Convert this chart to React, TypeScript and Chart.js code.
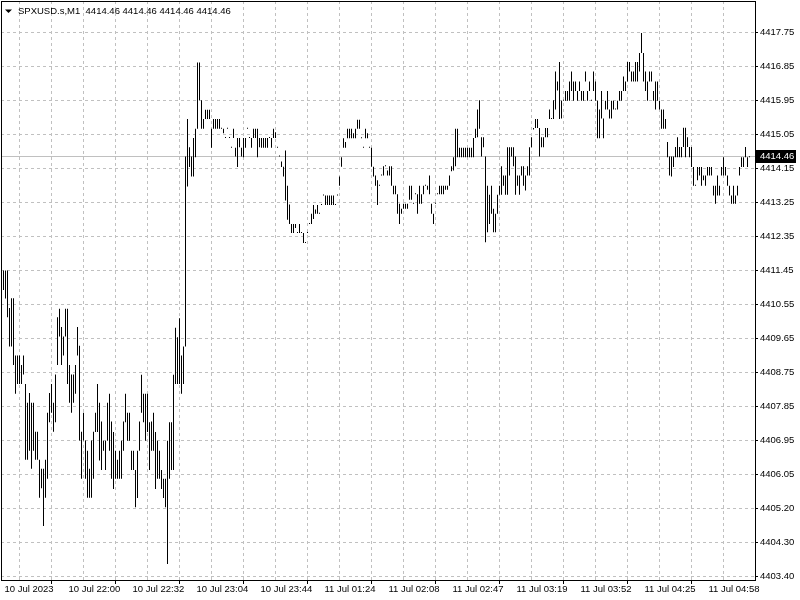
import React, { useEffect, useRef } from "react";
import { Chart, registerables } from "chart.js";

Chart.register(...registerables);

const TITLE_TEXT = "SPXUSD.s,M1  4414.46 4414.46 4414.46 4414.46";
const CURRENT_PRICE = 4414.46;
const CURRENT_LABEL = "4414.46";

const PRICE_TICK_LABELS = [
  "4417.75", "4416.85", "4415.95", "4415.05", "4414.15", "4413.25", "4412.35", "4411.45",
  "4410.55", "4409.65", "4408.75", "4407.85", "4406.95", "4406.05", "4405.20", "4404.30", "4403.40",
];

// one label every 32 one-minute bars (gridlines every 16 bars)
const TIME_LABELS = [
  "10 Jul 2023", "10 Jul 22:00", "10 Jul 22:32", "10 Jul 23:04", "10 Jul 23:44", "11 Jul 01:24",
  "11 Jul 02:08", "11 Jul 02:47", "11 Jul 03:19", "11 Jul 03:52", "11 Jul 04:25", "11 Jul 04:58",
];

const HIGHS = [
  4411.47, 4411.47, 4411.47, 4410.48, 4410.74, 4410.74, 4409.23, 4409.23, 4409.23, 4408.98,
  4409.23, 4408.48, 4407.98, 4408.24, 4407.98, 4407.98, 4407.22, 4407.22, 4406.48, 4406.24,
  4406.24, 4406.48, 4407.72, 4408.24, 4408.48, 4407.98, 4408.73, 4410.24, 4410.46, 4409.98,
  4409.73, 4410.46, 4410.46, 4408.98, 4408.73, 4408.73, 4408.98, 4409.98, 4409.49, 4407.22,
  4407.72, 4406.99, 4406.72, 4406.24, 4406.99, 4407.22, 4407.72, 4408.48, 4407.98, 4407.49,
  4406.98, 4406.98, 4407.98, 4408.22, 4407.49, 4407.21, 4406.72, 4406.48, 4406.72, 4406.98,
  4407.49, 4408.22, 4407.72, 4407.72, 4406.72, 4406.72, 4406.21, 4406.72, 4407.49, 4408.72,
  4408.22, 4408.22, 4408.22, 4407.47, 4407.49, 4407.72, 4407.21, 4406.98, 4406.72, 4406.21,
  4405.98, 4405.98, 4406.98, 4407.47, 4407.47, 4408.72, 4409.96, 4409.71, 4410.21, 4409.23,
  4409.47, 4414.48, 4415.47, 4414.72, 4414.48, 4414.97, 4415.21, 4416.96, 4416.96, 4415.96,
  4415.47, 4415.71, 4415.71, 4415.71, 4415.21, 4415.47, 4415.47, 4415.47, 4415.47, 4415.21,
  4415.21, 4414.97, 4415.21, 4414.97, 4414.71, 4415.21, 4414.71, 4414.97, 4414.97, 4414.71,
  4414.97, 4414.97, 4415.21, 4414.97, 4414.97, 4415.21, 4415.21, 4415.21, 4414.97, 4414.97,
  4414.97, 4414.97, 4414.97, 4414.97, 4414.97, 4415.21, 4415.12, 4414.71, 4414.48, 4414.35,
  4414.21, 4414.64, 4413.71, 4413.21, 4412.70, 4412.70, 4412.70, 4412.46, 4412.70, 4412.46,
  4412.46, 4412.20, 4412.46, 4412.70, 4412.97, 4413.20, 4413.08, 4413.20, 4412.97, 4413.20,
  4413.45, 4413.45, 4413.45, 4413.45, 4413.45, 4413.45, 4413.20, 4413.45, 4413.95, 4414.46,
  4414.96, 4414.86, 4415.21, 4415.21, 4415.21, 4415.09, 4415.21, 4415.45, 4415.45, 4414.96,
  4414.71, 4415.21, 4415.09, 4414.71, 4414.71, 4414.21, 4413.98, 4413.85, 4413.71, 4413.98,
  4414.22, 4414.22, 4414.11, 4414.22, 4414.22, 4413.71, 4413.71, 4413.48, 4413.23, 4413.10,
  4413.23, 4413.23, 4413.23, 4413.71, 4413.71, 4413.23, 4413.48, 4413.48, 4413.71, 4413.48,
  4413.71, 4413.71, 4413.71, 4413.98, 4413.23, 4412.97, 4413.23, 4413.48, 4413.71, 4413.71,
  4413.71, 4413.71, 4413.71, 4413.98, 4414.22, 4414.46, 4415.21, 4415.21, 4414.71, 4414.71,
  4414.71, 4414.71, 4414.71, 4414.71, 4414.71, 4414.97, 4415.21, 4415.72, 4415.96, 4414.99,
  4414.99, 4414.48, 4413.71, 4413.47, 4413.71, 4413.10, 4412.97, 4413.47, 4413.71, 4414.22,
  4413.98, 4413.98, 4414.72, 4414.72, 4414.72, 4414.72, 4414.48, 4413.98, 4413.98, 4414.22,
  4414.22, 4413.98, 4414.22, 4414.72, 4414.99, 4415.23, 4415.47, 4415.47, 4415.23, 4414.99,
  4414.99, 4415.23, 4415.23, 4415.72, 4415.47, 4415.96, 4416.72, 4416.46, 4416.97, 4415.95,
  4415.95, 4416.21, 4416.21, 4416.46, 4416.72, 4416.46, 4416.46, 4416.21, 4416.46, 4416.21,
  4416.21, 4416.72, 4416.21, 4416.46, 4415.95, 4416.72, 4416.46, 4415.95, 4415.72, 4416.21,
  4415.48, 4415.95, 4416.21, 4415.72, 4415.95, 4415.95, 4415.72, 4415.95, 4416.21, 4416.21,
  4416.59, 4416.46, 4416.97, 4416.97, 4416.72, 4416.72, 4416.97, 4416.97, 4417.21, 4417.74,
  4417.21, 4416.72, 4416.46, 4416.72, 4416.72, 4416.21, 4416.46, 4416.46, 4415.95, 4415.72,
  4415.72, 4415.47, 4414.86, 4414.48, 4414.48, 4414.48, 4414.73, 4414.99, 4414.73, 4414.73,
  4415.24, 4415.24, 4414.99, 4414.73, 4414.73, 4414.20, 4413.71, 4414.20, 4414.20, 4414.20,
  4413.98, 4413.98, 4414.20, 4414.20, 4414.20, 4413.71, 4413.71, 4413.98, 4413.71, 4414.20,
  4414.46, 4414.20, 4413.98, 4413.71, 4413.45, 4413.71, 4413.45, 4413.71, 4414.20, 4414.46,
  4414.46, 4414.73, 4414.46, 4414.46,
];

const LOWS = [
  4410.96, 4410.73, 4410.24, 4409.47, 4409.47, 4408.98, 4408.22, 4408.48, 4408.48, 4408.48,
  4408.73, 4406.48, 4406.48, 4406.72, 4406.24, 4406.72, 4406.48, 4406.48, 4405.48, 4405.73,
  4404.73, 4405.48, 4405.98, 4407.47, 4407.72, 4407.22, 4407.47, 4408.98, 4409.73, 4408.98,
  4409.23, 4409.73, 4408.48, 4407.98, 4407.72, 4407.98, 4408.22, 4409.23, 4406.99, 4405.98,
  4406.99, 4405.98, 4405.48, 4405.48, 4405.48, 4405.98, 4407.21, 4407.21, 4406.46, 4406.21,
  4406.72, 4406.21, 4406.98, 4406.72, 4405.98, 4405.71, 4405.98, 4405.98, 4405.98, 4405.98,
  4406.72, 4407.47, 4406.98, 4406.98, 4406.21, 4406.21, 4405.23, 4405.47, 4406.72, 4407.72,
  4407.47, 4406.98, 4407.21, 4406.21, 4406.72, 4406.72, 4405.71, 4405.98, 4405.98, 4405.71,
  4405.47, 4405.23, 4403.73, 4405.98, 4406.21, 4406.21, 4408.48, 4408.48, 4408.48, 4408.22,
  4408.48, 4409.47, 4413.69, 4414.20, 4413.95, 4413.95, 4414.46, 4415.21, 4415.96, 4415.21,
  4415.21, 4415.47, 4415.47, 4415.47, 4414.71, 4415.21, 4415.21, 4415.21, 4415.21, 4415.21,
  4415.09, 4414.97, 4415.21, 4414.97, 4414.71, 4414.97, 4414.48, 4414.20, 4414.72, 4414.48,
  4414.46, 4414.71, 4415.21, 4414.97, 4414.71, 4414.97, 4414.97, 4414.46, 4414.72, 4414.71,
  4414.71, 4414.71, 4414.71, 4414.97, 4414.71, 4414.97, 4414.97, 4414.71, 4414.48, 4414.20,
  4413.95, 4413.32, 4412.81, 4412.70, 4412.46, 4412.46, 4412.59, 4412.46, 4412.46, 4412.46,
  4412.20, 4412.20, 4412.46, 4412.70, 4412.70, 4412.83, 4412.97, 4412.97, 4412.97, 4413.20,
  4413.45, 4413.20, 4413.20, 4413.20, 4413.20, 4413.20, 4413.20, 4413.45, 4413.71, 4414.21,
  4414.71, 4414.71, 4414.96, 4414.96, 4414.96, 4414.96, 4414.96, 4415.21, 4415.21, 4414.96,
  4414.71, 4414.96, 4414.96, 4414.71, 4414.21, 4413.95, 4413.71, 4413.20, 4413.71, 4413.98,
  4413.98, 4414.22, 4413.98, 4413.98, 4413.71, 4413.48, 4413.48, 4412.97, 4412.70, 4412.97,
  4413.10, 4413.10, 4413.10, 4413.34, 4413.34, 4413.23, 4413.48, 4412.97, 4413.23, 4413.23,
  4413.48, 4413.71, 4413.60, 4413.48, 4412.97, 4412.70, 4413.23, 4413.48, 4413.48, 4413.48,
  4413.48, 4413.60, 4413.60, 4413.71, 4414.09, 4414.11, 4414.22, 4414.46, 4414.46, 4414.46,
  4414.46, 4414.46, 4414.46, 4414.46, 4414.46, 4414.46, 4414.97, 4414.99, 4415.21, 4414.48,
  4414.72, 4412.22, 4412.48, 4412.70, 4412.97, 4412.48, 4412.48, 4412.97, 4413.47, 4413.47,
  4413.71, 4413.47, 4413.47, 4413.98, 4414.48, 4414.22, 4413.47, 4413.71, 4413.47, 4413.98,
  4413.71, 4413.58, 4413.98, 4413.98, 4414.72, 4415.19, 4415.23, 4415.23, 4414.48, 4414.72,
  4414.72, 4414.99, 4414.99, 4415.47, 4415.47, 4415.47, 4415.72, 4416.22, 4415.47, 4415.48,
  4415.95, 4415.95, 4415.95, 4415.95, 4416.21, 4415.95, 4416.21, 4415.95, 4416.21, 4415.95,
  4415.95, 4416.46, 4415.95, 4416.21, 4415.95, 4416.21, 4415.95, 4414.96, 4414.96, 4415.48,
  4414.96, 4415.72, 4415.72, 4415.48, 4415.48, 4415.72, 4415.72, 4415.72, 4415.95, 4415.95,
  4416.21, 4416.21, 4416.46, 4416.72, 4416.46, 4416.46, 4416.46, 4416.46, 4416.72, 4417.21,
  4416.46, 4416.21, 4415.95, 4416.46, 4416.46, 4415.95, 4415.72, 4415.95, 4415.72, 4415.21,
  4415.21, 4415.21, 4414.46, 4413.98, 4413.95, 4414.20, 4414.46, 4414.46, 4414.46, 4414.46,
  4414.73, 4414.46, 4414.73, 4414.46, 4414.20, 4413.71, 4413.71, 4413.85, 4413.98, 4413.71,
  4413.85, 4413.71, 4413.98, 4413.98, 4413.98, 4413.45, 4413.23, 4413.45, 4413.45, 4413.98,
  4413.98, 4413.98, 4413.71, 4413.45, 4413.23, 4413.23, 4413.23, 4413.45, 4413.98, 4414.20,
  4414.20, 4414.46, 4414.20, 4414.46,
];

const FONT_FAMILY = "'Liberation Sans', Arial, sans-serif";
const FONT_SIZE = 9.5;

export default function App() {
  const canvasRef = useRef<HTMLCanvasElement | null>(null);

  useEffect(() => {
    document.body.style.margin = "0";
    const canvas = canvasRef.current;
    if (!canvas) return;

    // price scale geometry: 34px between price gridlines, top gridline at y=32.5
    const topTick = parseFloat(PRICE_TICK_LABELS[0]);
    const bottomTick = parseFloat(PRICE_TICK_LABELS[PRICE_TICK_LABELS.length - 1]);
    const step = (topTick - bottomTick) / (PRICE_TICK_LABELS.length - 1);
    const tickValues = PRICE_TICK_LABELS.map((_, i) => topTick - i * step);
    const pxPerUnit = 34 / step;
    const areaTop = 1;
    const areaBottom = 580;
    const yMax = topTick + (32.5 - areaTop) / pxPerUnit;
    const yMin = yMax - (areaBottom - areaTop) / pxPerUnit;

    // time scale geometry: 2px per bar, first bar centered at x=3.5
    const areaLeft = 1;
    const areaRight = 755;
    const xMin = -(3.5 - areaLeft) / 2;
    const xMax = xMin + (areaRight - areaLeft) / 2;
    const gridBars: number[] = [];
    for (let b = 0; b <= HIGHS.length; b += 16) gridBars.push(b);

    const bars = HIGHS.map((h, i) => ({ x: i, y: [LOWS[i], h] }));
    const font = { family: FONT_FAMILY, size: FONT_SIZE };

    const overlay = {
      id: "mtOverlay",
      beforeDatasetsDraw(chart: any) {
        const { ctx, chartArea, scales } = chart;
        const py = Math.round(scales.y.getPixelForValue(CURRENT_PRICE)) - 0.5;
        ctx.save();
        ctx.strokeStyle = "#c0c0c0";
        ctx.lineWidth = 1;
        ctx.setLineDash([]);
        ctx.beginPath();
        ctx.moveTo(chartArea.left, py);
        ctx.lineTo(chartArea.right, py);
        ctx.stroke();
        ctx.restore();
      },
      afterDraw(chart: any) {
        const { ctx, chartArea, scales } = chart;
        ctx.save();
        // frame
        ctx.strokeStyle = "#000";
        ctx.lineWidth = 1;
        ctx.setLineDash([]);
        ctx.strokeRect(chartArea.left + 0.5, chartArea.top + 0.5, chartArea.right - chartArea.left, chartArea.bottom - chartArea.top);
        // title
        ctx.fillStyle = "#000";
        ctx.beginPath();
        ctx.moveTo(5, 9.5);
        ctx.lineTo(12, 9.5);
        ctx.lineTo(8.5, 13);
        ctx.closePath();
        ctx.fill();
        ctx.font = `${FONT_SIZE}px ${FONT_FAMILY}`;
        ctx.textBaseline = "alphabetic";
        ctx.textAlign = "left";
        ctx.fillText(TITLE_TEXT, 18, 14);
        // current price box
        const py = Math.round(scales.y.getPixelForValue(CURRENT_PRICE)) - 0.5;
        ctx.fillStyle = "#000";
        ctx.fillRect(756, Math.round(py) - 7, 40, 13);
        ctx.fillStyle = "#fff";
        ctx.textBaseline = "middle";
        ctx.fillText(CURRENT_LABEL, 760, py);
        ctx.restore();
      },
    };

    const chart = new Chart(canvas, {
      type: "bar",
      data: {
        datasets: [
          {
            data: bars as any,
            backgroundColor: "#000",
            borderWidth: 0,
            barThickness: 1,
            minBarLength: 1,
            inflateAmount: 0,
            grouped: false,
          } as any,
        ],
      },
      options: {
        responsive: false,
        animation: false,
        events: [],
        layout: { padding: { left: areaLeft, top: areaTop, right: 0, bottom: 0 } },
        plugins: {
          legend: { display: false },
          tooltip: { enabled: false },
          title: { display: false },
        },
        scales: {
          x: {
            type: "linear",
            min: xMin,
            max: xMax,
            offset: false,
            afterFit: (s: any) => {
              s.height = 600 - areaBottom;
              s.paddingLeft = 0;
              s.paddingRight = 0;
            },
            afterBuildTicks: (s: any) => {
              s.ticks = gridBars.map((v) => ({ value: v }));
            },
            ticks: {
              autoSkip: false,
              maxRotation: 0,
              minRotation: 0,
              align: "start",
              labelOffset: 1,
              padding: 0,
              color: "#000",
              font,
              callback: (_v: any, i: number) => (i % 2 === 0 ? TIME_LABELS[i / 2] ?? "" : ""),
            },
            grid: {
              color: (ctx: any) => (ctx.index === 0 ? "rgba(0,0,0,0)" : "#c0c0c0"),
              lineWidth: 1,
              drawTicks: true,
              tickLength: 4,
              tickColor: (ctx: any) => (ctx.index % 2 === 0 ? "#000" : "rgba(0,0,0,0)"),
              tickBorderDash: [],
            },
            border: { display: false, dash: [3, 3] },
          } as any,
          y: {
            type: "linear",
            position: "right",
            min: yMin,
            max: yMax,
            afterFit: (s: any) => {
              s.width = 800 - areaRight;
              s.paddingTop = 0;
              s.paddingBottom = 0;
            },
            afterBuildTicks: (s: any) => {
              s.ticks = tickValues.map((v) => ({ value: v }));
            },
            ticks: {
              autoSkip: false,
              padding: 2,
              color: "#000",
              font,
              callback: (_v: any, i: number) => PRICE_TICK_LABELS[i],
            },
            grid: {
              color: "#c0c0c0",
              lineWidth: 1,
              drawTicks: true,
              tickLength: 3,
              tickColor: "#000",
              tickBorderDash: [],
            },
            border: { display: false, dash: [3, 3] },
          } as any,
        },
      },
      plugins: [overlay],
    });

    return () => {
      chart.destroy();
    };
  }, []);

  return (
    <div style={{ width: 800, height: 600 }}>
      <canvas ref={canvasRef} width={800} height={600} style={{ display: "block" }} />
    </div>
  );
}
